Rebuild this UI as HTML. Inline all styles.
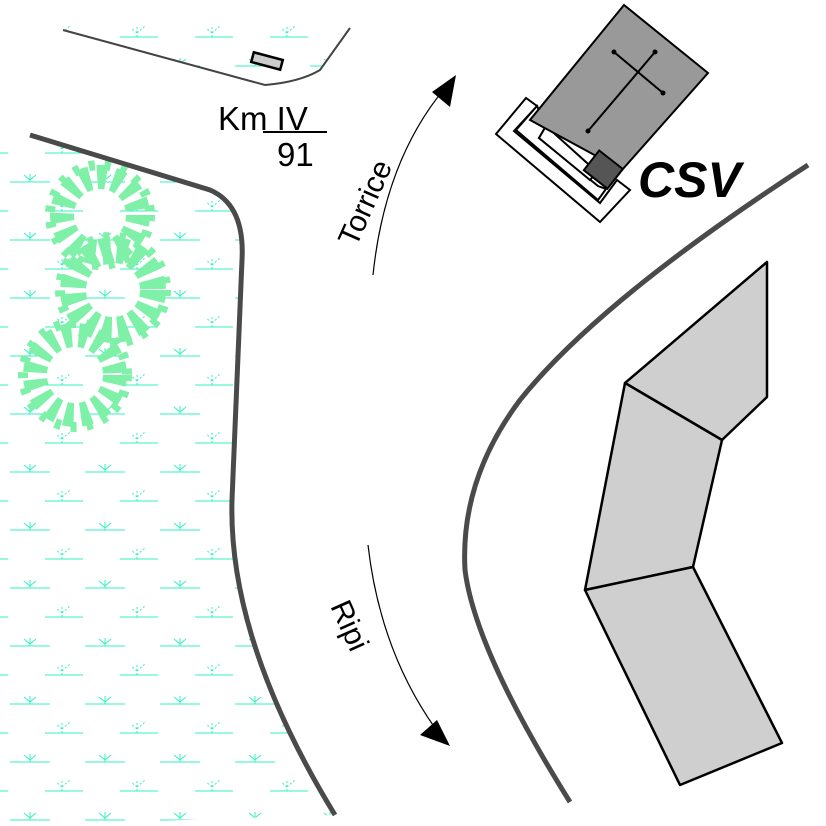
<!DOCTYPE html>
<html><head><meta charset="utf-8"><style>
html,body{margin:0;padding:0;background:#fff}
svg{display:block}
text{font-family:"Liberation Sans",sans-serif}
</style></head><body>
<svg width="826" height="826" viewBox="0 0 826 826" xmlns="http://www.w3.org/2000/svg">
<defs>
<pattern id="g" width="75" height="58" patternUnits="userSpaceOnUse">
<g stroke="#33f0c0" stroke-width="1" fill="none">
<line x1="10" y1="8" x2="50" y2="8"/>
<line x1="30" y1="8" x2="30" y2="0"/><line x1="30" y1="6" x2="24" y2="1"/><line x1="30" y1="6" x2="36" y2="1"/>
<line x1="45" y1="37" x2="75" y2="37"/><line x1="0" y1="37" x2="8" y2="37"/>
<line x1="62" y1="37" x2="62" y2="27" stroke-dasharray="2 2"/><line x1="62" y1="33" x2="70" y2="26" stroke-dasharray="2 2"/><line x1="62" y1="33" x2="56" y2="28" stroke-dasharray="2 2"/>
</g>
</pattern>
<clipPath id="lc"><path d="M0,140 L30,135 L210,190 Q245,210 242,260 L232,500 Q228,640 335,815 L0,826 Z"/></clipPath>
<clipPath id="tc"><path d="M63,20 L350,20 L320,70 Q300,85 265,85 L63,30 Z"/></clipPath>
</defs>
<rect x="0" y="0" width="826" height="826" fill="url(#g)" clip-path="url(#lc)"/>
<rect x="0" y="0" width="826" height="826" fill="url(#g)" clip-path="url(#tc)"/>
<!-- trees -->
<g fill="none" stroke="#7ef0a8" stroke-linecap="butt">
<circle cx="100" cy="215" r="38" stroke-width="24" stroke-dasharray="9 7"/>
<circle cx="100" cy="215" r="50" stroke-width="10" stroke-dasharray="6 10"/>
<circle cx="113" cy="290" r="40" stroke-width="26" stroke-dasharray="10 6"/>
<circle cx="113" cy="290" r="53" stroke-width="10" stroke-dasharray="6 10"/>
<circle cx="75" cy="375" r="40" stroke-width="24" stroke-dasharray="9 7"/>
<circle cx="75" cy="375" r="52" stroke-width="10" stroke-dasharray="6 10"/>
</g>
<!-- roads -->
<path d="M30,135 L210,190 Q245,205 242,260 L232,500 Q228,640 335,815" fill="none" stroke="#4a4a4a" stroke-width="5"/>
<path d="M808,165 Q600,300 520,400 Q460,480 465,570 Q475,650 570,802" fill="none" stroke="#4a4a4a" stroke-width="5"/>
<path d="M63,30 L265,85 Q300,82 320,70 L350,28" fill="none" stroke="#444" stroke-width="2"/>
<rect x="252" y="56" width="30" height="10" fill="#ccc" stroke="#000" stroke-width="2.5" transform="rotate(15 267 61)"/>
<!-- labels -->
<text x="218" y="130" font-size="33">Km IV</text>
<line x1="263" y1="132" x2="327" y2="132" stroke="#000" stroke-width="2"/>
<text x="277" y="166" font-size="33">91</text>
<path d="M373,275 Q385,160 445,88" fill="none" stroke="#000" stroke-width="1.2"/>
<polygon points="456,75 450,107 432,92" fill="#000"/>
<text x="0" y="0" font-size="30" transform="translate(356,248) rotate(-66)">Torrice</text>
<path d="M368,545 Q380,650 435,728" fill="none" stroke="#000" stroke-width="1.2"/>
<polygon points="450,746 420,735 437,720" fill="#000"/>
<text x="0" y="0" font-size="30" transform="translate(330,606) rotate(66)">Ripi</text>
<text x="638" y="197" font-size="50" font-weight="bold" font-style="italic">CSV</text>
<!-- church -->
<g stroke="#000" stroke-width="2" fill="#fff">
<polygon points="526,98 496,134 600,222 630,190 617,180 600,203 514,131 537,106"/>
<polygon points="537,106 516,130 598,200 606,189 598,186 539,138 546,126"/>
<polygon points="546,126 539,138 590,180 597,172"/>
</g>
<polygon points="624,5 708,73 622,170 530,120" fill="#999" stroke="#000" stroke-width="2"/>
<rect x="588" y="157" width="30" height="25" fill="#555" stroke="#000" stroke-width="2" transform="rotate(38 603 170)"/>
<g stroke="#000" stroke-width="2"><line x1="588" y1="131" x2="655" y2="52"/><line x1="614" y1="52" x2="663" y2="93"/></g>
<g fill="#000"><circle cx="588" cy="131" r="2.5"/><circle cx="655" cy="52" r="2.5"/><circle cx="614" cy="52" r="2.5"/><circle cx="663" cy="93" r="2.5"/></g>
<!-- building -->
<g fill="#cfcfcf" stroke="#000" stroke-width="2.5" stroke-linejoin="round">
<polygon points="625,383 767,262 767,397 722,440"/>
<polygon points="625,383 722,440 693,567 585,590"/>
<polygon points="585,590 693,567 782,743 680,785"/>
</g>
</svg>
</body></html>
